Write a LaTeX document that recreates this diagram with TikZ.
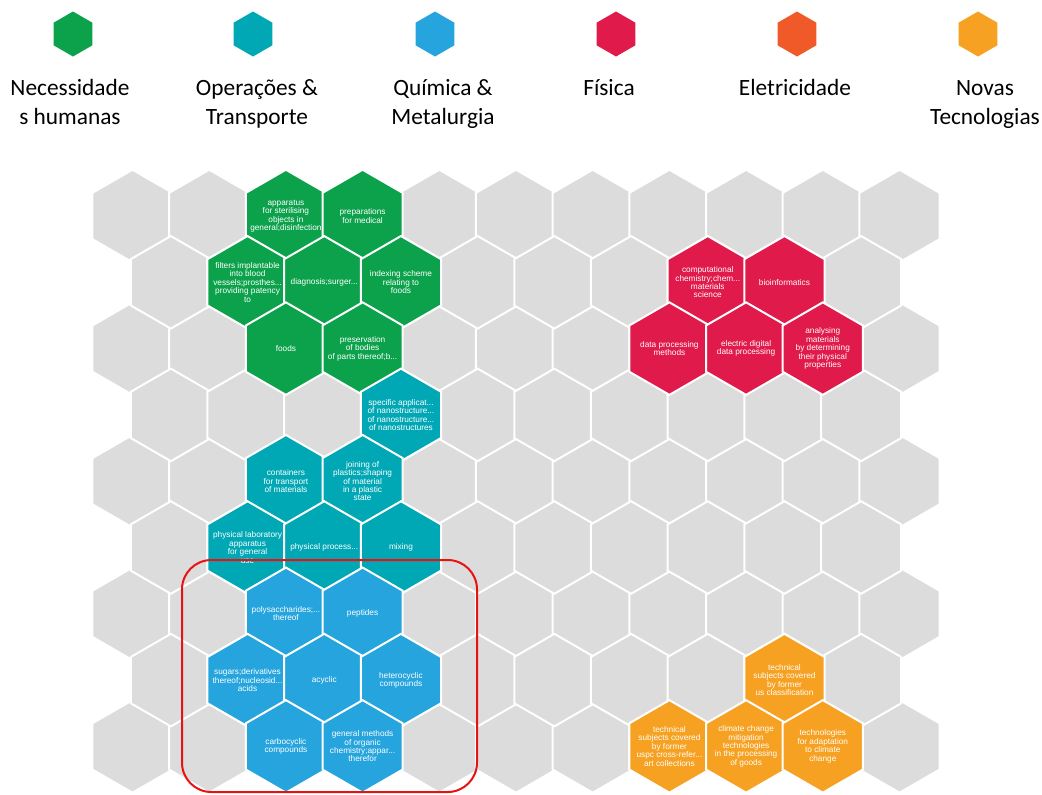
\documentclass[tikz,border=0pt]{standalone}
\usepackage{fontspec}
\setmainfont{Carlito}
\newfontfamily\cellfont{Liberation Sans}
\usepackage{xcolor}
\usepackage{tikz}
\usetikzlibrary{shapes.geometric, positioning}
\definecolor{cellgrey}{RGB}{220,220,220}
\definecolor{humangreen}{RGB}{12,161,75}
\definecolor{transteal}{RGB}{0,167,180}
\definecolor{chemblue}{RGB}{37,164,222}
\definecolor{physred}{RGB}{224,26,74}
\definecolor{elecorange}{RGB}{240,90,40}
\definecolor{newtechamber}{RGB}{246,161,33}
\definecolor{boxred}{RGB}{232,18,18}
\tikzset{
    hexcell/.style={regular polygon, regular polygon sides=6, shape border rotate=30,
                    minimum size=69.4pt, inner sep=0pt, outer sep=0pt,
                    draw=white, line width=1.5pt, fill=cellgrey},
    celltext/.style={text=white, align=center, inner sep=0pt,
                     font=\cellfont\fontsize{6.2}{6.3}\selectfont},
    hextext/.style={label={[celltext]center:{#1}}},
    legendhex/.style={regular polygon, regular polygon sides=6, shape border rotate=30,
                      minimum size=33.75pt, inner sep=0pt, outer sep=0pt},
    legendtext/.style={align=center, inner sep=0pt, font=\fontsize{17.5}{21.75}\selectfont},
    groupbox/.style={draw=boxred, line width=1.5pt, rounded corners=22pt}
}

\begin{document}
\begin{tikzpicture}[x=0.75pt, y=-0.75pt, node distance=14pt]
    \useasboundingbox (0,0) rectangle (1042,794);

    % Legend
    \node[legendhex, fill=humangreen] (lg-human) at (73,34) {};
    \node[legendhex, fill=transteal] (lg-trans) at (253,34) {};
    \node[legendhex, fill=chemblue] (lg-chem) at (435,34) {};
    \node[legendhex, fill=physred] (lg-phys) at (616,34) {};
    \node[legendhex, fill=elecorange] (lg-elec) at (797,34) {};
    \node[legendhex, fill=newtechamber] (lg-new) at (978,34) {};
    \node[legendtext, below=of lg-human, xshift=-2.25pt] (lt-human) {\strut Necessidade\\s humanas};
    \node[legendtext, below=of lg-trans, xshift=3pt] (lt-trans) {\strut Operações \&\\Transporte};
    \node[legendtext, below=of lg-chem, xshift=6pt] (lt-chem) {\strut Química \&\\Metalurgia};
    \node[legendtext, below=of lg-phys, xshift=-5.25pt] (lt-phys) {\strut Física};
    \node[legendtext, below=of lg-elec, xshift=-1.5pt] (lt-elec) {\strut Eletricidade};
    \node[legendtext, below=of lg-new, xshift=5.25pt] (lt-new) {\strut Novas\\Tecnologias};

    % Grey grid
    \foreach \r in {0,2,4,6,8}
        \foreach \k in {0,...,10}
            \node[hexcell] (c-\r-\k) at ({132.5+76.7*\k},{216+66.3*\r}) {};
    \foreach \r in {1,3,5,7}
        \foreach \k in {0,...,9}
            \node[hexcell] (c-\r-\k) at ({170.85+76.7*\k},{216+66.3*\r}) {};

    % Necessidades humanas
    \node[hexcell, fill=humangreen, hextext={apparatus\\for sterilising\\objects in\\general;disinfection}] (sterilising) at (c-0-2) {};
    \node[hexcell, fill=humangreen, hextext={preparations\\for medical}] (medical) at (c-0-3) {};
    \node[hexcell, fill=humangreen, hextext={filters implantable\\into blood\\vessels;prosthes...\\providing patency\\to}] (filters) at (c-1-1) {};
    \node[hexcell, fill=humangreen, hextext={diagnosis;surger...}] (diagnosis) at (c-1-2) {};
    \node[hexcell, fill=humangreen, hextext={indexing scheme\\relating to\\foods}] (indexing) at (c-1-3) {};
    \node[hexcell, fill=humangreen, hextext={foods}] (foods) at (c-2-2) {};
    \node[hexcell, fill=humangreen, hextext={preservation\\of bodies\\of parts thereof;b...}] (preservation) at (c-2-3) {};

    % Operacoes & Transporte
    \node[hexcell, fill=transteal, hextext={specific applicat...\\of nanostructure...\\of nanostructure...\\of nanostructures}] (nano) at (c-3-3) {};
    \node[hexcell, fill=transteal, hextext={containers\\for transport\\of materials}] (containers) at (c-4-2) {};
    \node[hexcell, fill=transteal, hextext={joining of\\plastics;shaping\\of material\\in a plastic\\state}] (plastics) at (c-4-3) {};
    \node[hexcell, fill=transteal, hextext={physical laboratory\\apparatus\\for general\\use}] (laboratory) at (c-5-1) {};
    \node[hexcell, fill=transteal, hextext={physical process...}] (process) at (c-5-2) {};
    \node[hexcell, fill=transteal, hextext={mixing}] (mixing) at (c-5-3) {};

    % Quimica & Metalurgia
    \node[hexcell, fill=chemblue, hextext={polysaccharides;...\\thereof}] (polysacch) at (c-6-2) {};
    \node[hexcell, fill=chemblue, hextext={peptides}] (peptides) at (c-6-3) {};
    \node[hexcell, fill=chemblue, hextext={sugars;derivatives\\thereof;nucleosid...\\acids}] (sugars) at (c-7-1) {};
    \node[hexcell, fill=chemblue, hextext={acyclic}] (acyclic) at (c-7-2) {};
    \node[hexcell, fill=chemblue, hextext={heterocyclic\\compounds}] (heterocyclic) at (c-7-3) {};
    \node[hexcell, fill=chemblue, hextext={carbocyclic\\compounds}] (carbocyclic) at (c-8-2) {};
    \node[hexcell, fill=chemblue, hextext={general methods\\of organic\\chemistry;appar...\\therefor}] (organic) at (c-8-3) {};

    % Fisica
    \node[hexcell, fill=physred, hextext={computational\\chemistry;chem...\\materials\\science}] (computational) at (c-1-7) {};
    \node[hexcell, fill=physred, hextext={bioinformatics}] (bioinfo) at (c-1-8) {};
    \node[hexcell, fill=physred, hextext={data processing\\methods}] (dataproc) at (c-2-7) {};
    \node[hexcell, fill=physred, hextext={electric digital\\data processing}] (digital) at (c-2-8) {};
    \node[hexcell, fill=physred, hextext={analysing\\materials\\by determining\\their physical\\properties}] (analysing) at (c-2-9) {};

    % Novas Tecnologias
    \node[hexcell, fill=newtechamber, hextext={technical\\subjects covered\\by former\\us classification}] (usclass) at (c-7-8) {};
    \node[hexcell, fill=newtechamber, hextext={technical\\subjects covered\\by former\\uspc cross-refer...\\art collections}] (uspc) at (c-8-7) {};
    \node[hexcell, fill=newtechamber, hextext={climate change\\mitigation\\technologies\\in the processing\\of goods}] (mitigation) at (c-8-8) {};
    \node[hexcell, fill=newtechamber, hextext={technologies\\for adaptation\\to climate\\change}] (adaptation) at (c-8-9) {};

    % Highlight
    \draw[groupbox] (182,560) rectangle (477,792);
\end{tikzpicture}
\end{document}
